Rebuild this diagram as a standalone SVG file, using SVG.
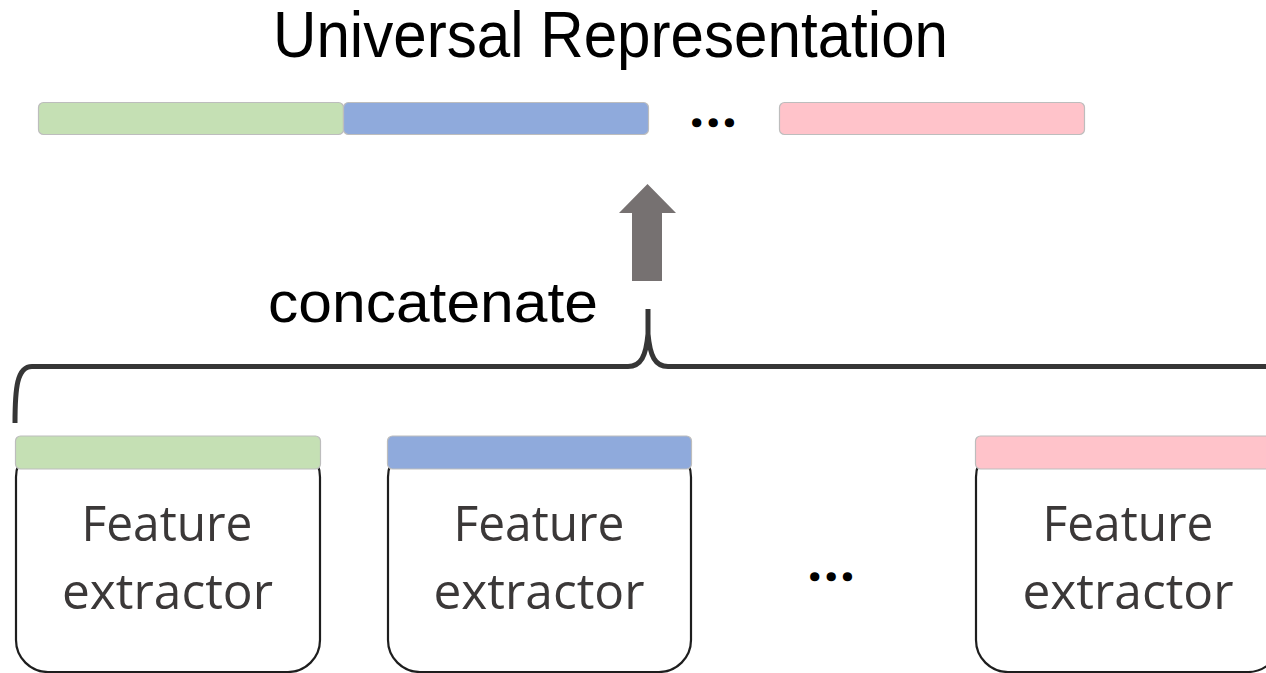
<svg xmlns="http://www.w3.org/2000/svg" width="1266" height="673" viewBox="0 0 1266 673">
<style>
.bar{stroke:#bdbdbd;stroke-width:1.2}
.g{fill:#C5E0B4}.b{fill:#8FAADC}.p{fill:#FFC3CA}
.body{fill:#fff;stroke:#1e1e1e;stroke-width:2.2}
.lbl{font-family:"Open Sans","Liberation Sans",sans-serif;font-size:49px;fill:#3b3838;text-anchor:middle}
.big{font-family:"Liberation Sans",Arial,sans-serif;fill:#000}
.dots{font-family:"Open Sans","Liberation Sans",sans-serif;font-weight:bold;font-size:40px;fill:#000;stroke:#000;stroke-width:2.4px;letter-spacing:5px}
</style>
<rect width="1266" height="673" fill="#fff"/>
<text class="big" x="273" y="57" font-size="64" textLength="675" lengthAdjust="spacingAndGlyphs">Universal Representation</text>
<g id="universal-bar">
<rect class="bar g" x="38.5" y="102.5" width="305" height="32" rx="5"/>
<rect class="bar b" x="343.5" y="102.5" width="305" height="32" rx="5"/>
<text class="dots" x="691" y="126">...</text>
<rect class="bar p" x="779.5" y="102.5" width="305" height="32" rx="5"/>
</g>
<g id="connectors">
<polygon points="647.5,184 676,213 662,213 662,281 632,281 632,213 619,213" fill="#767171"/>
<path d="M15,423 C15,388 17,366.5 32,366.5 L628,366.5 C641,366.5 646,356 648,334 C650,356 655,366.5 668,366.5 L1270,366.5 M648,334 L648,309" fill="none" stroke="#363636" stroke-width="5"/>
</g>
<text class="big" x="268" y="322" font-size="58" textLength="330" lengthAdjust="spacingAndGlyphs">concatenate</text>
<g id="extractor-1">
<rect class="body" x="16" y="445" width="304" height="227" rx="32"/>
<rect class="bar g" x="15.5" y="436" width="305" height="33" rx="5"/>
<text class="lbl" x="167" y="541" textLength="171" lengthAdjust="spacingAndGlyphs">Feature</text>
<text class="lbl" x="167.5" y="609" textLength="211" lengthAdjust="spacingAndGlyphs">extractor</text>
</g>
<g id="extractor-2">
<rect class="body" x="388" y="445" width="303" height="227" rx="32"/>
<rect class="bar b" x="387.5" y="436" width="304" height="33" rx="5"/>
<text class="lbl" x="539" y="541" textLength="171" lengthAdjust="spacingAndGlyphs">Feature</text>
<text class="lbl" x="539" y="609" textLength="211" lengthAdjust="spacingAndGlyphs">extractor</text>
</g>
<text class="dots" x="809" y="580">...</text>
<g id="extractor-3">
<rect class="body" x="976" y="445" width="304" height="227" rx="32"/>
<rect class="bar p" x="975.5" y="436" width="305" height="33" rx="5"/>
<text class="lbl" x="1128" y="541" textLength="171" lengthAdjust="spacingAndGlyphs">Feature</text>
<text class="lbl" x="1128" y="609" textLength="211" lengthAdjust="spacingAndGlyphs">extractor</text>
</g>
</svg>
